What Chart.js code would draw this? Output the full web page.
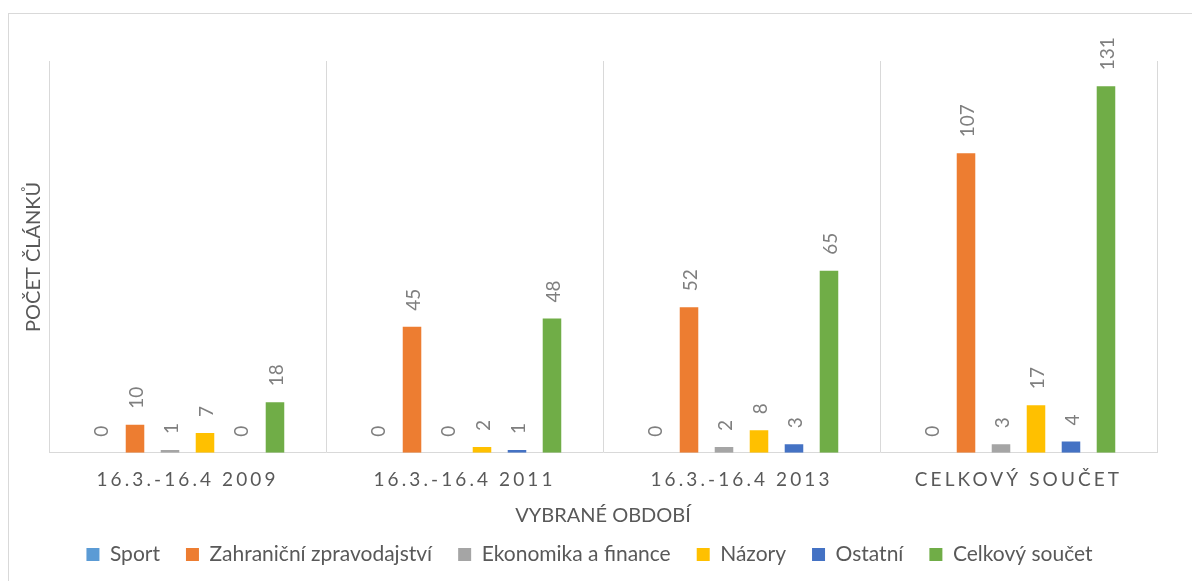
<!DOCTYPE html>
<html>
<head>
<meta charset="utf-8">
<script src="https://cdn.jsdelivr.net/npm/chart.js@4/dist/chart.umd.min.js"></script>
<style>
  html, body { margin: 0; padding: 0; background: #fff; overflow: hidden; }
  .wrap { position: relative; width: 1192px; height: 581px; }
  .frame {
    position: absolute; left: 8px; top: 13px; width: 1200px; height: 600px;
    border: 1px solid #d9d9d9; box-sizing: border-box; pointer-events: none;
  }
  canvas { position: absolute; left: 0; top: 0; }
</style>
</head>
<body>
<div class="wrap">
  <canvas id="chart" width="1192" height="581"></canvas>
  <div class="frame"></div>
</div>
<script>
// --- DATA --- //
const periods = ['16.3.-16.4 2009', '16.3.-16.4 2011', '16.3.-16.4 2013', 'CELKOVÝ SOUČET']
const sport = [0, 0, 0, 0]
const zahranicni = [10, 45, 52, 107]
const ekonomika = [1, 0, 2, 3]
const nazory = [7, 2, 8, 17]
const ostatni = [0, 1, 3, 4]
const celkem = [18, 48, 65, 131]

const FONT = "Lato, 'Open Sans', sans-serif"

// --- PLUGINS --- //
// rotated value labels above every bar
const barLabels = {
  id: 'barLabels',
  afterDatasetsDraw: chart => {
    const ctx = chart.ctx
    ctx.save()
    ctx.font = `19px ${FONT}`
    ctx.fillStyle = '#7f7f7f'
    ctx.textAlign = 'left'
    ctx.textBaseline = 'middle'
    chart.data.datasets.forEach((ds, i) => {
      chart.getDatasetMeta(i).data.forEach((bar, j) => {
        ctx.save()
        ctx.translate(bar.x + 2, bar.y - 16)
        ctx.rotate(-Math.PI / 2)
        ctx.fillText(String(ds.data[j]), 0, 0)
        ctx.restore()
      })
    })
    ctx.restore()
  }
}

// letter spaced category labels
const spacedTicks = {
  id: 'spacedTicks',
  afterLayout: chart => {
    const xs = chart.scales.x
    if (xs._spaced) return
    const orig = xs.drawLabels
    xs.drawLabels = function (area) {
      this.ctx.save()
      this.ctx.letterSpacing = '3.1px'
      orig.call(this, area)
      this.ctx.restore()
    }
    xs._spaced = true
  }
}

// --- CHART --- //
const bar = (label, data, color) => ({
  label,
  data,
  backgroundColor: color,
  borderWidth: 0,
  categoryPercentage: 0.758,
  barPercentage: 0.53
})

const config = {
  type: 'bar',
  data: {
    labels: periods,
    datasets: [
      bar('Sport', sport, '#5b9bd5'),
      bar('Zahraniční zpravodajství', zahranicni, '#ed7d31'),
      bar('Ekonomika a finance', ekonomika, '#a5a5a5'),
      bar('Názory', nazory, '#ffc000'),
      bar('Ostatní', ostatni, '#4472c4'),
      bar('Celkový součet', celkem, '#70ad47')
    ]
  },
  options: {
    responsive: false,
    animation: false,
    layout: {
      padding: { left: 22, right: 35, top: 61, bottom: 6 }
    },
    scales: {
      x: {
        grid: { display: true, color: '#d9d9d9', lineWidth: 1, drawTicks: false, offset: true },
        border: { display: true, color: '#d9d9d9' },
        ticks: {
          color: '#595959',
          font: { family: FONT, size: 19 },
          padding: 16,
          maxRotation: 0,
          autoSkip: false
        },
        title: {
          display: true,
          text: 'VYBRANÉ OBDOBÍ',
          color: '#595959',
          font: { family: FONT, size: 20 },
          padding: { top: -4, bottom: -9.5 }
        }
      },
      y: {
        min: 0,
        max: 140,
        grid: { display: false, drawTicks: false },
        border: { display: false },
        ticks: { display: false },
        title: {
          display: true,
          text: 'POČET ČLÁNKŮ',
          color: '#595959',
          font: { family: FONT, size: 20 },
          padding: { top: 0, bottom: 3 }
        }
      }
    },
    plugins: {
      legend: {
        position: 'bottom',
        labels: {
          boxWidth: 13,
          boxHeight: 13,
          padding: 26,
          color: '#595959',
          font: { family: FONT, size: 21 }
        }
      },
      tooltip: { enabled: false }
    }
  },
  plugins: [barLabels, spacedTicks]
}

const myChart = new Chart(document.getElementById('chart'), config)
</script>
</body>
</html>
